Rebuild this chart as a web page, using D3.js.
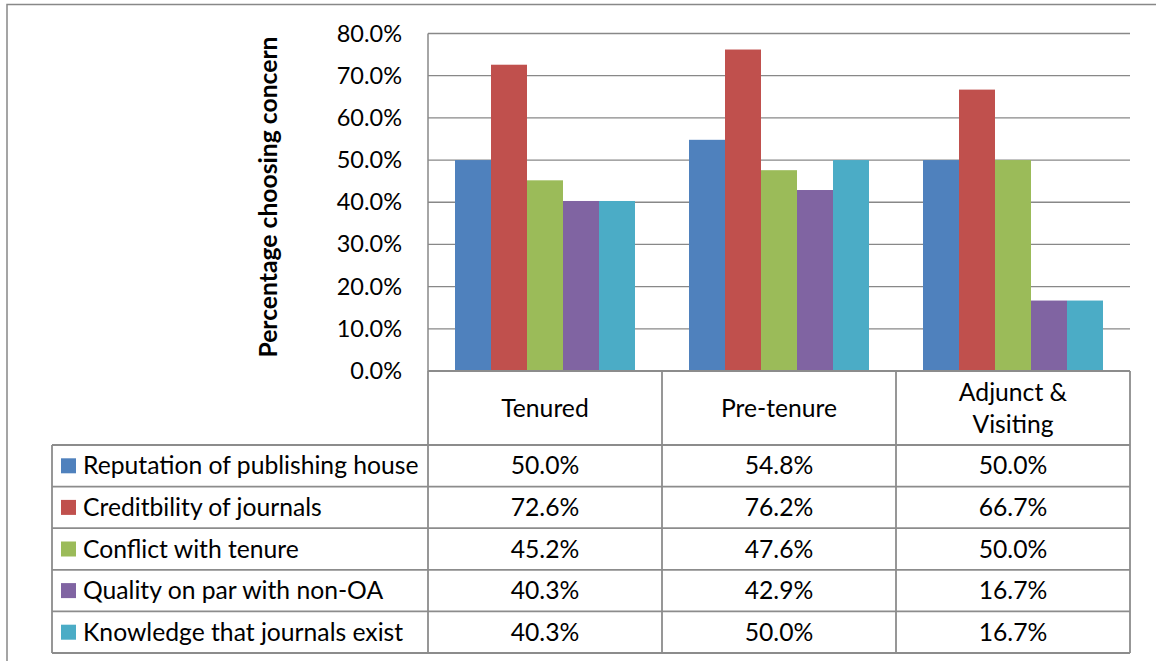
<!DOCTYPE html>
<html><head><meta charset="utf-8">
<script src="https://cdn.jsdelivr.net/npm/d3@7"></script>
<style>body{margin:0;background:#fff}svg{display:block}text{font-family:Lato,"Open Sans",sans-serif;fill:#000}</style>
</head><body>
<svg id="c" width="1156" height="661"></svg>
<script>
const categories = ["Tenured", "Pre-tenure", "Adjunct & Visiting"];
const categoryLines = [["Tenured"], ["Pre-tenure"], ["Adjunct &", "Visiting"]];
const seriesNames = ["Reputation of publishing house", "Creditbility of journals", "Conflict with tenure", "Quality on par with non-OA", "Knowledge that journals exist"];
const seriesValues = [
  [50.0, 54.8, 50.0],
  [72.6, 76.2, 66.7],
  [45.2, 47.6, 50.0],
  [40.3, 42.9, 16.7],
  [40.3, 50.0, 16.7]
];
const yTicks = [0, 10, 20, 30, 40, 50, 60, 70, 80];
const colors = ["#4F81BD", "#C0504D", "#9BBB59", "#8064A2", "#4BACC6"];

const svg = d3.select("#c");
const L = 428, R = 1130, T = 33.5, B = 371;
const tableLeft = 52, headerBottom = 445, rowH = 41.6;
const fs = 24.7;

// outer border
svg.append("rect").attr("x", 7).attr("y", 4.5).attr("width", 1160).attr("height", 670)
  .attr("fill", "none").attr("stroke", "#888").attr("stroke-width", 1.5);

const y = d3.scaleLinear().domain([0, 80]).range([B, T]);
const x0 = d3.scaleBand().domain(categories).range([L, R]).paddingInner(0).paddingOuter(0);
const x1 = d3.scaleBand().domain(d3.range(seriesNames.length)).range([0, x0.bandwidth()]).paddingOuter(0.75).paddingInner(0);

// gridlines
svg.append("g").selectAll("line").data(yTicks.filter(d => d > 0)).join("line")
  .attr("x1", L).attr("x2", R).attr("y1", d => y(d)).attr("y2", d => y(d))
  .attr("stroke", "#888").attr("stroke-width", 1.3);

// bars
categories.forEach((c, ci) => {
  svg.append("g").selectAll("rect").data(seriesValues.map((s, si) => ({si, v: s[ci]}))).join("rect")
    .attr("x", d => x0(c) + x1(d.si)).attr("width", x1.bandwidth())
    .attr("y", d => y(d.v)).attr("height", d => B - y(d.v))
    .attr("fill", d => colors[d.si]);
});

// y axis
const yAxis = d3.axisLeft(y).tickValues(yTicks).tickFormat(d => d.toFixed(1) + "%").tickSize(0).tickPadding(26);
const ga = svg.append("g").attr("transform", `translate(${L},0)`).call(yAxis);
ga.select(".domain").remove();
ga.selectAll("text").attr("font-size", 23.5).attr("font-family", "Lato").attr("fill", "#000");
svg.append("line").attr("x1", L).attr("x2", L).attr("y1", T).attr("y2", B).attr("stroke", "#888").attr("stroke-width", 1.5);

// y title
svg.append("text").attr("transform", `translate(277,197) rotate(-90)`).attr("text-anchor", "middle")
  .attr("font-size", 24.7).attr("font-weight", "bold").text("Percentage choosing concern");

// table
const tb = svg.append("g");
const stroke = "#8c8c8c", sw = 1.8;
const tableBottom = headerBottom + rowH * seriesNames.length;
tb.append("line").attr("x1", L).attr("x2", R).attr("y1", B).attr("y2", B).attr("stroke", stroke).attr("stroke-width", sw);
[L, ...categories.map(c => x0(c) + x0.bandwidth())].forEach(xx => {
  tb.append("line").attr("x1", xx).attr("x2", xx).attr("y1", B).attr("y2", tableBottom).attr("stroke", stroke).attr("stroke-width", sw);
});
tb.append("line").attr("x1", tableLeft).attr("x2", tableLeft).attr("y1", headerBottom).attr("y2", tableBottom).attr("stroke", stroke).attr("stroke-width", sw);
d3.range(seriesNames.length + 1).forEach(i => {
  const yy = headerBottom + i * rowH;
  tb.append("line").attr("x1", tableLeft).attr("x2", R).attr("y1", yy).attr("y2", yy).attr("stroke", stroke).attr("stroke-width", sw);
});
categories.forEach((c, ci) => {
  const lines = categoryLines[ci];
  const cx = x0(c) + x0.bandwidth() / 2;
  const cy = (B + headerBottom) / 2;
  lines.forEach((ln, li) => {
    tb.append("text").attr("x", cx).attr("y", cy + (li - (lines.length - 1) / 2) * 32).attr("dy", "0.35em")
      .attr("text-anchor", "middle").attr("font-size", fs).text(ln);
  });
});
seriesNames.forEach((name, si) => {
  const cy = headerBottom + si * rowH + rowH / 2;
  tb.append("rect").attr("x", 61).attr("y", cy - 7.5).attr("width", 15).attr("height", 15).attr("fill", colors[si]);
  tb.append("text").attr("x", 83).attr("y", cy).attr("dy", "0.35em").attr("font-size", fs).text(name);
  categories.forEach((c, ci) => {
    tb.append("text").attr("x", x0(c) + x0.bandwidth() / 2).attr("y", cy).attr("dy", "0.35em")
      .attr("text-anchor", "middle").attr("font-size", fs).text(seriesValues[si][ci].toFixed(1) + "%");
  });
});
</script>
</body></html>
